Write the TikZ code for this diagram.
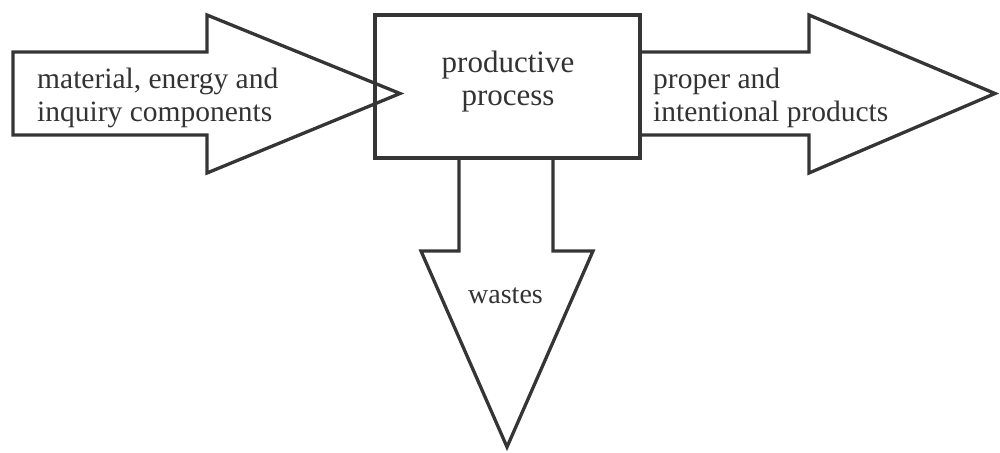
\documentclass[tikz,border=0pt]{standalone}
\usepackage{fontspec}
\setmainfont{Liberation Serif}
\begin{document}
\begin{tikzpicture}[x=1pt,y=-1pt,
  shapeline/.style={draw=linegray, line width=3.3pt, line join=miter},
  lbl/.style={inner sep=0pt, text=textgray, align=left, font=\fontsize{29.5}{33}\selectfont},
  boxlbl/.style={inner sep=0pt, text=textgray, align=center, font=\fontsize{31}{33}\selectfont}]
\definecolor{linegray}{HTML}{353535}
\definecolor{textgray}{HTML}{333333}
\useasboundingbox (0,0) rectangle (1000,452);
% input arrow
\draw[shapeline] (13,52) -- (207,52) -- (207,15) -- (400,93.5) -- (207,173) -- (207,135) -- (13,135) -- cycle;
% process box
\node[shapeline, minimum width=265pt, minimum height=143pt, inner sep=0pt] (box) at (507.5,86.5) {};
\node[boxlbl, anchor=base] (proc) at (508,105) {productive\\process};
% output arrow
\coordinate (oa) at (box.east |- 0,52);
\coordinate (ob) at (box.east |- 0,135);
\draw[shapeline] (oa) -- (809,52) -- (809,15) -- (995,93.5) -- (809,173) -- (809,135) -- (ob);
% waste arrow
\coordinate (wa) at (459,0 |- box.south);
\coordinate (wb) at (553,0 |- box.south);
\draw[shapeline] (wa) -- (459,251) -- (421,251) -- (507,447) -- (593,251) -- (553,251) -- (wb);
% labels
\node[lbl, anchor=base west] (inp) at (37,121.7) {material, energy and\\inquiry components};
\node[lbl, anchor=base west] (out) at (653,121.7) {proper and\\intentional products};
\node[lbl, anchor=base, font=\fontsize{28}{33}\selectfont] (waste) at (505.5,303) {wastes};
\end{tikzpicture}
\end{document}
